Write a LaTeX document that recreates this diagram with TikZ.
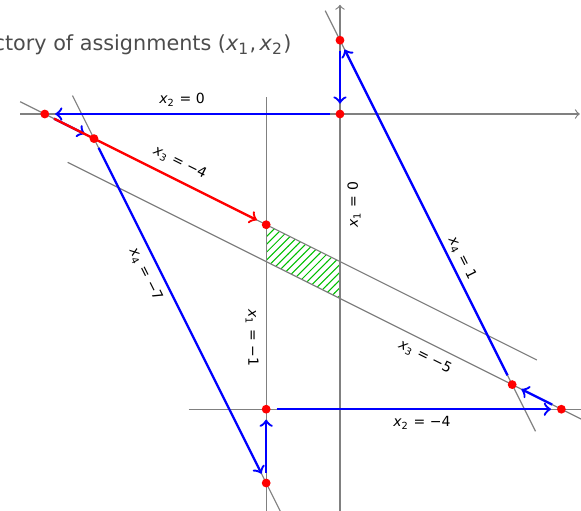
\documentclass[tikz,border=0pt]{standalone}
\usepackage{fontspec}
\setmainfont{DejaVu Sans}
\usetikzlibrary{patterns}
\newcommand{\xv}[1]{\textit{x}\textsubscript{#1}}

\begin{document}
\begin{tikzpicture}[
        line/.style={gray, line width=0.45pt},
        axis/.style={gray, line width=0.45pt, ->},
        traj/.style={->, blue, line width=0.9pt, shorten <=4pt, shorten >=4pt},
        jump/.style={->, red, line width=0.9pt, shorten <=4pt, shorten >=4pt},
        dot/.style={circle, fill=red, inner sep=0pt, minimum size=3.4pt},
        lbl/.style={font=\fontsize{5.4}{6.5}\selectfont},
        region/.style={pattern=north east lines, pattern color=green!75!black}
    ]
        \useasboundingbox (-4.607,-5.379) rectangle (3.266,1.545);

        % feasible region
        \fill[region] (-1,-1.5) -- (0,-2) -- (0,-2.5) -- (-1,-2) -- cycle;

        % axes and constraint lines
        \draw[axis] (-4.33,0) -- (3.25,0);
        \draw[axis] (0,-5.5) -- (0,1.48);
        \draw[line] (-1,0.23) -- (-1,-5.5);
        \draw[line] (-2.05,-4) -- (3.5,-4);
        \draw[line] (-4.333,0.1667) -- (2.667,-3.333);
        \draw[line] (-3.69,-0.655) -- (3.5,-4.25);
        \draw[line] (-3.625,0.25) -- (-0.75,-5.5);
        \draw[line] (-0.2,1.4) -- (2.65,-4.3);

        \node[lbl] (l2a) at (-2.14,0.19) {\xv{2} = 0};
        \node[lbl, rotate=-26.57] (l3a) at (-2.17,-0.66) {\xv{3} = −4};
        \node[lbl, rotate=90] (l1a) at (0.19,-1.23) {\xv{1} = 0};
        \node[lbl, rotate=-63.43] (l4a) at (-2.635,-2.176) {\xv{4} = −7};
        \node[lbl, rotate=-90] (l1b) at (-1.19,-3.035) {\xv{1} = −1};
        \node[lbl, rotate=-63.43] (l4b) at (1.653,-1.951) {\xv{4} = 1};
        \node[lbl, rotate=-26.57] (l3b) at (1.152,-3.293) {\xv{3} = −5};
        \node[lbl] (l2b) at (1.11,-4.19) {\xv{2} = −4};

        \node[anchor=base east, inner sep=0pt, text=black!70, font=\fontsize{8}{9.6}\selectfont] (title) at (-0.65,0.867) {Trajectory of assignments (\xv{1},\,\xv{2})};

        % assignments visited
        \coordinate (pt0) at (0,1);
        \coordinate (pt1) at (0,0);
        \coordinate (pt2) at (-4,0);
        \coordinate (pt3) at (-10/3,-1/3);
        \coordinate (pt4) at (-1,-5);
        \coordinate (pt5) at (-1,-4);
        \coordinate (pt6) at (3,-4);
        \coordinate (pt7) at (7/3,-11/3);
        \coordinate (ptr) at (-1,-1.5);

        \draw[traj] (pt0) -- (pt1);
        \draw[traj] (pt1) -- (pt2);
        \draw[traj] (pt2) -- (pt3);
        \draw[traj] (pt3) -- (pt4);
        \draw[traj] (pt4) -- (pt5);
        \draw[traj] (pt5) -- (pt6);
        \draw[traj] (pt6) -- (pt7);
        \draw[traj] (pt7) -- (pt0);
        \draw[jump] (pt2) -- (ptr);

        \foreach \p in {pt0,pt1,pt2,pt3,pt4,pt5,pt6,pt7,ptr}
            \node[dot] at (\p) {};
    \end{tikzpicture}
\end{document}
